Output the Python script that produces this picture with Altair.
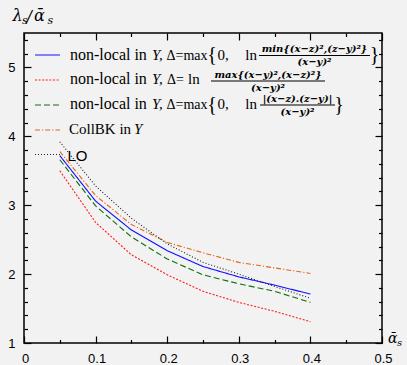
import altair as alt
import pandas as pd

# ---------------- data ----------------
alpha = [0.05, 0.10, 0.15, 0.20, 0.25, 0.30, 0.35, 0.40]
nl_min = [3.72, 3.06, 2.64, 2.34, 2.11, 1.96, 1.84, 1.71]
nl_max = [3.50, 2.75, 2.28, 1.99, 1.75, 1.59, 1.46, 1.31]
nl_abs = [3.66, 2.99, 2.54, 2.22, 1.99, 1.86, 1.75, 1.59]
collbk = [3.78, 3.14, 2.72, 2.46, 2.31, 2.17, 2.09, 2.01]
lo = [3.92, 3.28, 2.81, 2.44, 2.17, 2.00, 1.82, 1.65]

series_names = ["nl_min", "nl_max", "nl_abs", "CollBK", "LO"]
series_vals = [nl_min, nl_max, nl_abs, collbk, lo]
series_colors = ["#1010ff", "#ff1a1a", "#0a700a", "#e2661a", "#222222"]
series_dash = [[1, 0], [2, 1.6], [6, 3], [5, 2, 1.2, 2], [1, 2]]

x_major = [0, 0.1, 0.2, 0.3, 0.4, 0.5]
x_minor = [0.05, 0.15, 0.25, 0.35, 0.45]
y_major = [1, 2, 3, 4, 5]
y_minor = [1.2, 1.4, 1.6, 1.8, 2.2, 2.4, 2.6, 2.8, 3.2, 3.4, 3.6, 3.8,
           4.2, 4.4, 4.6, 4.8, 5.2, 5.4]

rows = []
for name, vals in zip(series_names, series_vals):
    for a, v in zip(alpha, vals):
        rows.append({"series": name, "alpha": a, "ratio": v})
df = pd.DataFrame(rows)

# ---------------- layout ----------------
W, H = 358, 310
PL, PT = 24, 33
BG = "#f2f2f2"

xscale = alt.Scale(domain=[0, 0.5], nice=False, zero=False)
yscale = alt.Scale(domain=[1, 5.5], nice=False, zero=False)

lines = alt.Chart(df).mark_line(strokeWidth=1.1).encode(
    x=alt.X("alpha:Q", scale=xscale,
            axis=alt.Axis(orient="bottom", values=x_major, format="~g", ticks=False,
                          domain=False, grid=False, title=None, labelFlush=False,
                          labelFont="Liberation Sans", labelFontSize=13,
                          labelColor="black", labelPadding=9, labelOffset=1)),
    y=alt.Y("ratio:Q", scale=yscale,
            axis=alt.Axis(orient="left", values=y_major, format="d", ticks=False,
                          domain=False, grid=False, title=None, labelFlush=False,
                          labelFont="Liberation Sans", labelFontSize=13,
                          labelColor="black", labelPadding=9)),
    color=alt.Color("series:N", scale=alt.Scale(domain=series_names, range=series_colors),
                    legend=None),
    strokeDash=alt.StrokeDash("series:N",
                              scale=alt.Scale(domain=series_names, range=series_dash),
                              legend=None),
)


def tick_axis(orient, offset, values, size):
    return alt.Axis(orient=orient, offset=offset, values=values, labels=False,
                    domain=False, grid=False, ticks=True, tickSize=size,
                    tickColor="black", tickWidth=1.2, title=None)


def tick_layer(xa, ya):
    return alt.Chart(df).mark_point(opacity=0).encode(
        x=alt.X("alpha:Q", scale=xscale, axis=xa),
        y=alt.Y("ratio:Q", scale=yscale, axis=ya),
    )


ticks = [
    tick_layer(tick_axis("top", -H, x_major, 7), tick_axis("right", -W, y_major, 7)),
    tick_layer(tick_axis("top", -H, x_minor, 3.5), tick_axis("right", -W, y_minor, 3.5)),
    tick_layer(tick_axis("bottom", -H, x_major, 7), tick_axis("left", -W, y_major, 7)),
    tick_layer(tick_axis("bottom", -H, x_minor, 3.5), tick_axis("left", -W, y_minor, 3.5)),
]

one = pd.DataFrame({"k": [0]})


def txt(s, x, y, size, font="Liberation Serif", align="left", style="normal",
        weight="normal"):
    return alt.Chart(one).mark_text(
        text=s, align=align, baseline="alphabetic", font=font, fontSize=size,
        fontStyle=style, fontWeight=weight, color="black"
    ).encode(x=alt.value(x - PL), y=alt.value(y - PT))


def hrule(x1, x2, y, color="black", dash=None, width=1.0):
    kw = dict(color=color, strokeWidth=width)
    if dash is not None:
        kw["strokeDash"] = dash
    return alt.Chart(one).mark_rule(**kw).encode(
        x=alt.value(x1 - PL), x2=alt.value(x2 - PL), y=alt.value(y - PT))


legend_y = [55, 80, 105, 130, 154.5]
legend = []
for i in range(5):
    legend.append(hrule(35, 60, legend_y[i], series_colors[i],
                        series_dash[i] if i > 0 else None, 1.0))

FS = 15
FR = "DejaVu Serif"
baselines = [59.5, 84.3, 109]
for r, b in enumerate(baselines):
    legend += [txt("non-local in", 70, b, 16),
               txt("Y,", 152, b, FS, style="italic")]
    if r == 1:
        legend += [txt("Δ=", 167, b, 14), txt("ln", 188, b, FS)]
    else:
        legend += [txt("Δ=max", 166.5, b, 14), txt("{", 212, b + 1.8, 20, align="center"),
                   txt("0,", 217.5, b, FS), txt("ln", 257, b, FS, align="right")]

fractions = [
    ("min{(x−z)²,(z−y)²}", 259, 370, 55.5, 374.5),
    ("max{(x−y)²,(x−z)²}", 211, 325, 81, None),
    ("|(x−z).(z−y)|", 260, 335, 105, 339),
]
for num, x1, x2, yb, rb in fractions:
    cx = (x1 + x2) / 2
    legend += [hrule(x1, x2, yb, width=1.2),
               txt(num, cx, yb - 3.3, 10, font=FR, align="center", style="italic",
                   weight="bold"),
               txt("(x−y)²", cx, yb + 9.6, 10, font=FR, align="center", style="italic",
                   weight="bold")]
    if rb is not None:
        legend.append(txt("}", rb, yb + 5.5, 20, align="center"))

legend += [txt("CollBK in", 69, 134, FS), txt("Y", 134, 134, FS, style="italic"),
           txt("LO", 67.5, 160.5, 15, font="Liberation Sans")]

titles = [
    txt("λ", 12.5, 20.5, 16, font=FR, style="italic"),
    txt("s", 22, 23.5, 11, font=FR, style="italic"),
    txt("/", 26.5, 22, 16, font=FR, style="italic"),
    txt("ᾱ", 34, 20.5, 16, font=FR, style="italic"),
    txt("s", 47.5, 23.5, 11, font=FR, style="italic"),
    txt("ᾱ", 388, 342.5, 14, font=FR, style="italic"),
    txt("s", 397, 345.5, 10, font=FR, style="italic"),
]

chart = alt.layer(lines, *ticks, *legend, *titles).resolve_axis(
    x="independent", y="independent"
).properties(
    width=W, height=H, autosize="none",
    padding={"left": PL, "top": PT, "right": 407 - PL - W, "bottom": 365 - PT - H},
    background=BG,
).configure_view(fill=BG, stroke="black", strokeWidth=1.5)

chart.save("out.html", embed_options={"renderer": "svg", "actions": False})
